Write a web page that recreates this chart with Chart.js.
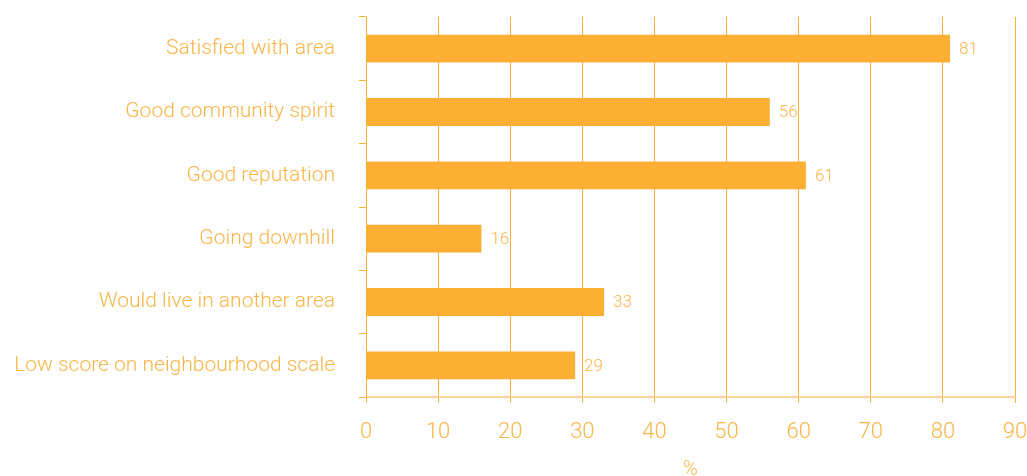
<!DOCTYPE html>
<html>
<head>
<meta charset="utf-8">
<script src="https://cdn.jsdelivr.net/npm/chart.js@4"></script>
<style>
  html, body { margin: 0; padding: 0; background: #fff; }
  #wrap { width: 1027px; height: 476px; }
</style>
</head>
<body>
<div id="wrap"><canvas id="chart" width="1027" height="476"></canvas></div>
<script>
const categories = [
  'Satisfied with area',
  'Good community spirit',
  'Good reputation',
  'Going downhill',
  'Would live in another area',
  'Low score on neighbourhood scale'
];
const percentages = [81, 56, 61, 16, 33, 29];
const xTicks = [0, 10, 20, 30, 40, 50, 60, 70, 80, 90];

const orange = '#FBB034';
const textOrange = '#F9B547';

// draws the value next to the end of each bar
const valueLabels = {
  id: 'valueLabels',
  afterDatasetsDraw(chart) {
    const ctx = chart.ctx;
    const meta = chart.getDatasetMeta(0);
    ctx.save();
    ctx.font = '300 17px Roboto';
    ctx.fillStyle = textOrange;
    ctx.textBaseline = 'middle';
    meta.data.forEach((bar, i) => {
      ctx.fillText(String(percentages[i]), bar.x + 9, bar.y + 1);
    });
    ctx.restore();
  }
};

new Chart(document.getElementById('chart'), {
  type: 'bar',
  data: {
    labels: categories,
    datasets: [{
      data: percentages,
      backgroundColor: orange,
      borderWidth: 0,
      barPercentage: 0.44,
      categoryPercentage: 1
    }]
  },
  options: {
    indexAxis: 'y',
    responsive: false,
    animation: false,
    layout: { padding: { top: 17, right: 12, left: 0, bottom: 0 } },
    plugins: { legend: { display: false }, tooltip: { enabled: false } },
    scales: {
      x: {
        min: 0,
        max: 90,
        afterBuildTicks(scale) { scale.ticks = xTicks.map(v => ({ value: v })); },
        grid: { color: orange, lineWidth: 1, tickLength: 6, drawTicks: true },
        border: { color: '#FDD396', width: 2 },
        ticks: { color: textOrange, font: { family: 'Roboto', weight: '300', size: 22 }, padding: 16 },
        title: { display: true, text: '%', color: textOrange, font: { family: 'Roboto', weight: '300', size: 20 }, padding: { top: 0, bottom: -6 } },
        afterFit(scale) {
          scale.height = 79;
          scale.paddingLeft = 0;
          scale.paddingRight = 0;
        }
      },
      y: {
        grid: { drawOnChartArea: false, color: orange, tickLength: 7, offset: true },
        border: { color: orange, width: 1 },
        ticks: { color: textOrange, font: { family: 'Roboto', weight: '300', size: 21 }, padding: 24 },
        afterFit(scale) {
          scale.width = 366;
          scale.paddingTop = 0;
          scale.paddingBottom = 0;
        }
      }
    }
  },
  plugins: [valueLabels]
});
</script>
</body>
</html>
